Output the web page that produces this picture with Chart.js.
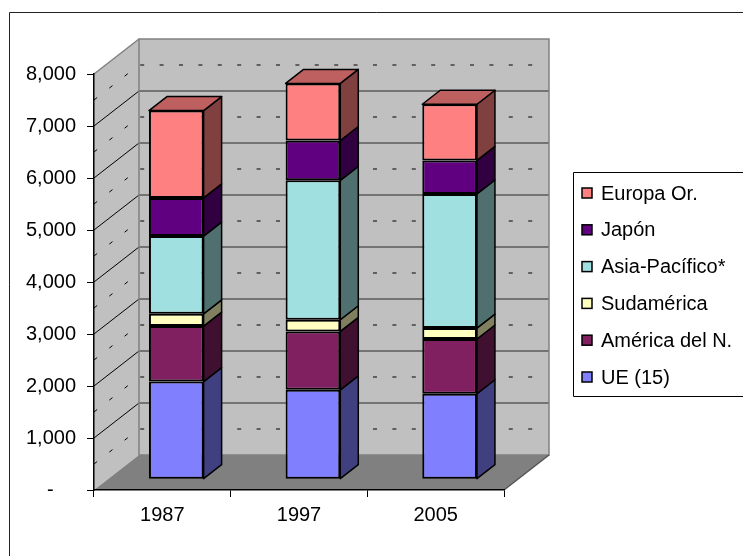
<!DOCTYPE html>
<html>
<head>
<meta charset="utf-8">
<script src="https://cdn.jsdelivr.net/npm/chart.js@4.4.0/dist/chart.umd.min.js"></script>
<style>
  html, body { margin: 0; padding: 0; background: #fff; }
  canvas { display: block; }
</style>
</head>
<body>
<canvas id="chart" width="743" height="556"></canvas>
<script>
// values (front face of each column)
const categories   = ['1987', '1997', '2005']
const ue15         = [1877, 1718, 1642]
const americaNorte = [1067, 1123, 1053]
const sudamerica   = [236, 224, 211]
const asiaPacifico = [1494, 2682, 2579]
const japon        = [734, 766, 645]
const europaOr     = [1680, 1098, 1079]

const seriesLabels = ['UE (15)', 'América del N.', 'Sudamérica', 'Asia-Pacífico*', 'Japón', 'Europa Or.']
const seriesValues = [ue15, americaNorte, sudamerica, asiaPacifico, japon, europaOr]
const seriesColors = ['#8080FF', '#802060', '#FFFFC0', '#A0E0E0', '#600080', '#FF8080']

const yMax      = 8000
const yStep     = 1000
const yMinor    = 500

// 3d look
const DEPTH_X   = 45
const DEPTH_Y   = -35
const BAR_FRONT = 0.31
const BAR_BACK  = 0.71
const FONT      = '"Liberation Sans", Arial, sans-serif'

const shade = (hex, f) => {
    let n = parseInt(hex.slice(1), 16)
    let r = Math.round(((n >> 16) & 255) * f)
    let g = Math.round(((n >> 8) & 255) * f)
    let b = Math.round((n & 255) * f)
    return `rgb(${r},${g},${b})`
}

const poly = (ctx, pts) => {
    ctx.beginPath()
    ctx.moveTo(pts[0][0], pts[0][1])
    for (let i = 1; i < pts.length; i++) ctx.lineTo(pts[i][0], pts[i][1])
    ctx.closePath()
}

const box3d = {
    id: 'box3d',
    beforeDraw(chart) {
        const { ctx, chartArea: a, scales: { y } } = chart
        const y0 = y.getPixelForValue(0)
        const yT = y.getPixelForValue(yMax)

        ctx.save()
        ctx.fillStyle = '#fff'
        ctx.fillRect(0, 0, chart.width, chart.height)

        // outer frame
        ctx.strokeStyle = '#222'
        ctx.lineWidth = 1
        ctx.beginPath()
        ctx.moveTo(9.5, chart.height)
        ctx.lineTo(9.5, 12.5)
        ctx.lineTo(chart.width, 12.5)
        ctx.stroke()

        // back wall
        ctx.fillStyle = '#C0C0C0'
        ctx.fillRect(a.left + DEPTH_X, yT + DEPTH_Y, a.right - a.left, y0 - yT)
        // left wall
        poly(ctx, [[a.left, yT], [a.left + DEPTH_X, yT + DEPTH_Y], [a.left + DEPTH_X, y0 + DEPTH_Y], [a.left, y0]])
        ctx.fill()
        // floor
        ctx.fillStyle = '#808080'
        poly(ctx, [[a.left, y0], [a.left + DEPTH_X, y0 + DEPTH_Y], [a.right + DEPTH_X, y0 + DEPTH_Y], [a.right, y0]])
        ctx.fill()

        // major gridlines
        for (let v = yStep; v < yMax; v += yStep) {
            let py = y.getPixelForValue(v)
            ctx.strokeStyle = '#5a5a5a'
            ctx.lineWidth = 1.5
            ctx.beginPath()
            ctx.moveTo(a.left + DEPTH_X, py + DEPTH_Y)
            ctx.lineTo(a.right + DEPTH_X, py + DEPTH_Y)
            ctx.stroke()
            ctx.strokeStyle = '#000'
            ctx.lineWidth = 1
            ctx.beginPath()
            ctx.moveTo(a.left, py)
            ctx.lineTo(a.left + DEPTH_X, py + DEPTH_Y)
            ctx.stroke()
        }

        // minor dashed gridlines
        ctx.strokeStyle = '#000'
        ctx.lineWidth = 1
        ctx.setLineDash([4, 15.4])
        for (let v = yMinor; v < yMax; v += yStep) {
            let py = y.getPixelForValue(v)
            ctx.beginPath()
            ctx.moveTo(a.left, py)
            ctx.lineTo(a.left + DEPTH_X, py + DEPTH_Y)
            ctx.lineTo(a.right + DEPTH_X - 6, py + DEPTH_Y)
            ctx.stroke()
        }
        ctx.setLineDash([])

        // wall edges
        ctx.strokeStyle = '#808080'
        ctx.lineWidth = 1.5
        ctx.strokeRect(a.left + DEPTH_X, yT + DEPTH_Y, a.right - a.left, y0 - yT)
        ctx.beginPath()
        ctx.moveTo(a.left, yT)
        ctx.lineTo(a.left + DEPTH_X, yT + DEPTH_Y)
        ctx.stroke()
        ctx.strokeStyle = '#555'
        ctx.beginPath()
        ctx.moveTo(a.right, y0)
        ctx.lineTo(a.right + DEPTH_X, y0 + DEPTH_Y)
        ctx.stroke()
        ctx.restore()
    },
    beforeDatasetsDraw(chart) {
        chart.ctx.save()
        chart.ctx.translate(DEPTH_X * BAR_FRONT, DEPTH_Y * BAR_FRONT)
    },
    afterDatasetsDraw(chart) {
        const ctx = chart.ctx
        const bx = DEPTH_X * (BAR_BACK - BAR_FRONT)
        const by = DEPTH_Y * (BAR_BACK - BAR_FRONT)
        const last = chart.data.datasets.length - 1

        ctx.lineWidth = 1.5
        ctx.lineJoin = 'round'
        ctx.strokeStyle = '#000'
        chart.data.datasets.forEach((ds, i) => {
            chart.getDatasetMeta(i).data.forEach(el => {
                let { x, y, base, width } = el.getProps(['x', 'y', 'base', 'width'], true)
                let xl = x - width / 2
                let xr = x + width / 2
                ctx.fillStyle = shade(ds.backgroundColor, 0.5)
                poly(ctx, [[xr, y], [xr + bx, y + by], [xr + bx, base + by], [xr, base]])
                ctx.fill()
                ctx.stroke()
                if (i === last) {
                    ctx.fillStyle = shade(ds.backgroundColor, 0.75)
                    poly(ctx, [[xl, y], [xl + bx, y + by], [xr + bx, y + by], [xr, y]])
                    ctx.fill()
                    ctx.stroke()
                }
            })
        })
        ctx.restore()
    },
    afterDraw(chart) {
        // legend box, series listed top to bottom in reverse order
        const ctx = chart.ctx
        const left = 573.5, top = 172.5, bottom = 396.5
        const firstY = 193, gap = 36.8

        ctx.save()
        ctx.strokeStyle = '#000'
        ctx.lineWidth = 1
        ctx.beginPath()
        ctx.moveTo(chart.width, top)
        ctx.lineTo(left, top)
        ctx.lineTo(left, bottom)
        ctx.lineTo(chart.width, bottom)
        ctx.stroke()

        ctx.font = `20px ${FONT}`
        ctx.textBaseline = 'middle'
        ctx.textAlign = 'left'
        const dsets = chart.data.datasets.slice().reverse()
        dsets.forEach((ds, k) => {
            let cy = firstY + k * gap
            ctx.fillStyle = ds.backgroundColor
            ctx.fillRect(582, cy - 5, 10, 10)
            ctx.lineWidth = 1.5
            ctx.strokeRect(582, cy - 5, 10, 10)
            ctx.fillStyle = '#000'
            ctx.fillText(ds.label, 601, cy + 1)
        })
        ctx.restore()
    }
}

new Chart(document.getElementById('chart'), {
    type: 'bar',
    data: {
        labels: categories,
        datasets: seriesLabels.map((label, i) => ({
            label: label,
            data: seriesValues[i],
            backgroundColor: seriesColors[i],
            borderColor: '#000',
            borderWidth: 2,
            borderSkipped: false,
            barPercentage: 0.4,
            categoryPercentage: 1,
            clip: false
        }))
    },
    options: {
        responsive: false,
        animation: false,
        devicePixelRatio: 1,
        layout: { padding: { top: 74, right: 239, left: 0, bottom: 0 } },
        plugins: {
            legend: { display: false },
            tooltip: { enabled: false }
        },
        scales: {
            x: {
                stacked: true,
                afterFit: s => { s.height = 66 },
                border: { display: true, color: '#000', width: 1.5 },
                grid: { offset: true, drawOnChartArea: false, tickLength: 7, color: '#000', lineWidth: 1 },
                ticks: { padding: 6, color: '#000', font: { family: FONT, size: 20 } }
            },
            y: {
                stacked: true,
                min: 0,
                max: yMax,
                afterFit: s => { s.width = 94 },
                border: { display: true, color: '#000', width: 1.5 },
                grid: { drawOnChartArea: false, tickLength: 7, color: '#000', lineWidth: 1 },
                ticks: {
                    stepSize: yStep,
                    padding: 11,
                    color: '#000',
                    font: { family: FONT, size: 20 },
                    callback: v => v === 0 ? '-    ' : v.toLocaleString('en-US')
                }
            }
        }
    },
    plugins: [box3d]
})
</script>
</body>
</html>
